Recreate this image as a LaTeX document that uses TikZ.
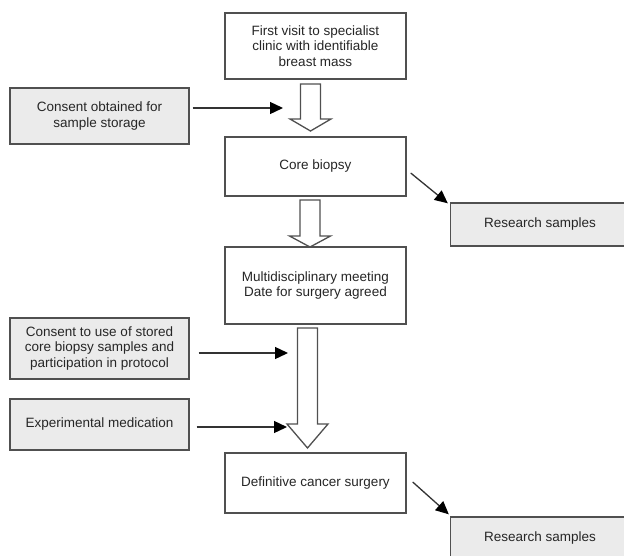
\documentclass[tikz,border=0pt]{standalone}
\usepackage{fontspec}
\setmainfont{Liberation Sans}
\usetikzlibrary{arrows.meta,calc}

\definecolor{boxline}{HTML}{505050}
\definecolor{boxfill}{HTML}{EBEBEB}
\definecolor{inkgray}{HTML}{262626}

% big open arrow pointing down: top point, tip point, head length
\newcommand{\hollowdown}[3]{%
  \draw[hollow] ($(#1)+(-10,0)$) -- ($(#2)+(-10,-#3)$) -- ($(#2)+(-20.5,-#3)$)
    -- (#2) -- ($(#2)+(20.5,-#3)$) -- ($(#2)+(10,-#3)$) -- ($(#1)+(10,0)$) -- cycle;}

\begin{document}
\begin{tikzpicture}[x=1pt, y=-1pt,
	every node/.style={text=inkgray, font=\fontsize{13.5}{15.5}\selectfont, align=center, inner sep=0pt},
	stepbox/.style={draw=boxline, line width=1.4pt, fill=white, minimum width=181pt},
	sidebox/.style={draw=boxline, line width=1.4pt, fill=boxfill, minimum width=179pt},
	hollow/.style={draw=boxline, line width=1.3pt, fill=white, line join=miter},
	feed/.style={draw=black!80, line width=1.3pt, -{Triangle[length=13pt, width=12pt, color=black]}}]
	\useasboundingbox (0,0) rectangle (624,555);

	% main steps
	\node (visit) [stepbox, minimum height=66pt] at (315.5,46) {First visit to specialist\\clinic with identifiable\\breast mass};
	\node (core) [stepbox, minimum height=59pt] at (315.5,166.5) {Core biopsy};
	\node (mdm) [stepbox, minimum height=77pt] at (315.5,285.5) {Multidisciplinary meeting\\Date for surgery agreed};
	\node (surgery) [stepbox, minimum height=60pt] at (315.5,483) {Definitive cancer surgery};

	% side boxes
	\node (consent1) [sidebox, minimum height=56pt] at (99.5,116) {Consent obtained for\\sample storage};
	\node (consent2) [sidebox, minimum height=61pt] at (99.5,348.5) {Consent to use of stored\\core biopsy samples and\\participation in protocol};
	\node (medication) [sidebox, minimum height=51pt] at (99.5,424.5) {Experimental medication};
	\node (samples1) [sidebox, minimum height=43pt] at (540,224.5) {Research samples};
	\node (samples2) [sidebox, minimum height=43pt] at (540,538.5) {Research samples};

	% open arrows between the steps
	\coordinate (a1top) at (310.5,84);
	\coordinate (a1tip) at (310.5,131);
	\coordinate (a2top) at (310,200);
	\coordinate (a2tip) at (310,247);
	\coordinate (a3top) at (307.5,328);
	\coordinate (a3tip) at (307.5,448);
	\hollowdown{a1top}{a1tip}{12}
	\hollowdown{a2top}{a2tip}{11}
	\hollowdown{a3top}{a3tip}{24}

	% thin arrows
	\coordinate (in1) at (283,108);
	\coordinate (in2) at (288,353);
	\coordinate (in3) at (287,427);

	\path
		(consent1.east |- in1) edge[feed, shorten <=3pt] (in1)
		(consent2.east |- in2) edge[feed, shorten <=9pt] (in2)
		(medication.east |- in3) edge[feed, shorten <=7pt] (in3)
		([shift={(4,6.5)}]core.east) edge[feed] ([shift={(-2,1)}]samples1.north west)
		([shift={(6,-1)}]surgery.east) edge[feed] ([shift={(-1,-2)}]samples2.north west);

\end{tikzpicture}
\end{document}
